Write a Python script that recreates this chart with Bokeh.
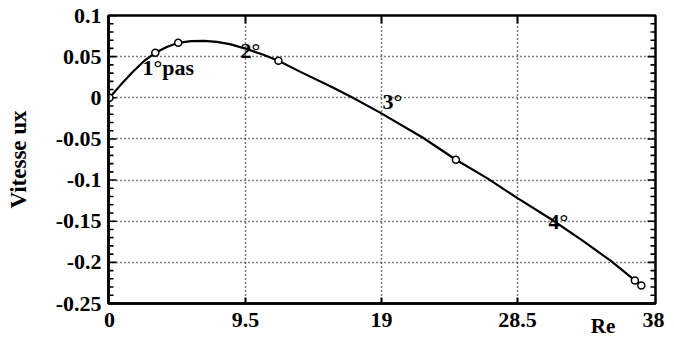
from bokeh.plotting import figure
from bokeh.models import Range1d, FixedTicker, Label
from bokeh.embed import file_html
from bokeh.resources import INLINE

# Velocity profile ux versus Re
curve_re = [0, 0.8, 1.6, 2.4, 3.2, 4.0, 4.8, 5.7, 6.6, 7.5, 8.4, 9.5, 10.7, 11.8, 13.3,
            15.6, 17.0, 18.9, 21.9, 24.2, 26.4, 28.5, 30.8, 33.0, 35.0, 36.7, 37.15]
curve_ux = [0, 0.016, 0.031, 0.0445, 0.0547, 0.0617, 0.0668, 0.0688, 0.0692, 0.068,
            0.0652, 0.0598, 0.0525, 0.045, 0.0318, 0.0125, 0.0, -0.018, -0.0486,
            -0.0753, -0.098, -0.122, -0.147, -0.173, -0.198, -0.222, -0.228]

# computed steps (open circles)
pts_re = [0, 3.2, 4.8, 11.8, 24.2, 36.7, 37.15]
pts_ux = [0, 0.0547, 0.0668, 0.045, -0.0753, -0.222, -0.228]

x_ticks = [0, 9.5, 19, 28.5, 38]
x_tick_labels = ["0", "9.5", "19", "28.5", "38"]
y_ticks = [0.1, 0.05, 0, -0.05, -0.1, -0.15, -0.2, -0.25]
y_tick_labels = ["0.1", "0.05", "0", "-0.05", "-0.1", "-0.15", "-0.2", "-0.25"]
y_minor = [round(-0.25 + 0.01 * i, 2) for i in range(36)]

# step annotations: text, x, y (baseline left)
step_text = ["1°pas", "2°", "3°", "4°"]
step_x = [2.3, 9.15, 19.07, 30.66]
step_y = [0.0365, 0.058, -0.005, -0.1507]

FONT = "Liberation Serif"
NBSP = "\u00a0"

X0, X1 = -0.07, 38.14
Y0, Y1 = -0.25, 0.1
W, H = 674, 341
BL, BR, BT, BB = 108, 19, 15, 38

p = figure(width=W, height=H, output_backend="svg", toolbar_location=None,
           x_range=Range1d(X0, X1), y_range=Range1d(Y0, Y1),
           min_border_left=BL, min_border_right=BR, min_border_top=BT,
           min_border_bottom=BB)
p.background_fill_color = "white"
p.border_fill_color = "white"
p.outline_line_color = "black"
p.outline_line_width = 2.5

# main axes (tick marks are drawn inside the box below)
for ax in (p.xaxis[0], p.yaxis[0]):
    ax.axis_line_width = 2.5
    ax.axis_line_color = "black"
    ax.major_tick_in = 0
    ax.major_tick_out = 0
    ax.minor_tick_in = 0
    ax.minor_tick_out = 0
    ax.major_label_text_font = FONT
    ax.major_label_text_font_style = "bold"
    ax.major_label_text_font_size = "22px"
    ax.major_label_text_color = "black"
    ax.major_label_standoff = 7

p.xaxis.major_label_standoff = 9
p.xaxis.ticker = FixedTicker(ticks=x_ticks)
p.xaxis.major_label_overrides = dict(zip(x_ticks, x_tick_labels))
p.yaxis.ticker = FixedTicker(ticks=y_ticks, minor_ticks=y_minor)
p.yaxis.major_label_overrides = dict(zip(y_ticks, y_tick_labels))

p.yaxis.axis_label = "Vitesse ux"
p.yaxis.axis_label_text_font = FONT
p.yaxis.axis_label_text_font_style = "bold"
p.yaxis.axis_label_text_font_size = "23px"
p.yaxis.axis_label_text_color = "black"
p.yaxis.axis_label_standoff = 22

# x axis title sits near the right end, just under the tick labels
xa = p.xaxis[0]
xa.axis_label = "Re" + NBSP * 20
xa.axis_label_text_font = FONT
xa.axis_label_text_font_style = "bold"
xa.axis_label_text_font_size = "21px"
xa.axis_label_text_color = "black"
xa.axis_label_standoff = -16
if "axis_label_align" in xa.properties():
    xa.axis_label_align = "end"

# dotted grid
p.xgrid.ticker = FixedTicker(ticks=x_ticks[1:-1])
p.ygrid.ticker = FixedTicker(ticks=y_ticks[1:-1])
for g in (p.xgrid[0], p.ygrid[0]):
    g.grid_line_color = "black"
    g.grid_line_dash = "1 3"
    g.grid_line_width = 1.6

# inward tick marks on all four sides, sized in pixels
dx = (X1 - X0) / (W - BL - BR)
dy = (Y1 - Y0) / (H - BT - BB)
y_tick_len = [8 if any(abs(v - t) < 1e-9 for t in y_ticks) else 5 for v in y_minor]
p.segment(x0=[X0] * len(y_minor), y0=y_minor,
          x1=[X0 + n * dx for n in y_tick_len], y1=y_minor,
          line_color="black", line_width=1.6)
p.segment(x0=[X1] * len(y_minor), y0=y_minor,
          x1=[X1 - n * dx for n in y_tick_len], y1=y_minor,
          line_color="black", line_width=1.6)
inner_x = x_ticks[1:-1]
p.segment(x0=inner_x, y0=[Y1] * len(inner_x), x1=inner_x,
          y1=[Y1 - 8 * dy] * len(inner_x), line_color="black", line_width=2)
p.segment(x0=inner_x, y0=[Y0] * len(inner_x), x1=inner_x,
          y1=[Y0 + 6 * dy] * len(inner_x), line_color="black", line_width=2)

p.line(curve_re, curve_ux, line_color="black", line_width=2.2)
p.scatter(pts_re, pts_ux, marker="circle", size=7, fill_color="white",
          line_color="black", line_width=1.5)

for t, x, y in zip(step_text, step_x, step_y):
    p.add_layout(Label(x=x, y=y, text=t, text_font=FONT, text_font_style="bold",
                       text_font_size="22px", text_color="black",
                       text_baseline="alphabetic", text_align="left"))

open("out.html", "w").write(file_html(p, INLINE))
